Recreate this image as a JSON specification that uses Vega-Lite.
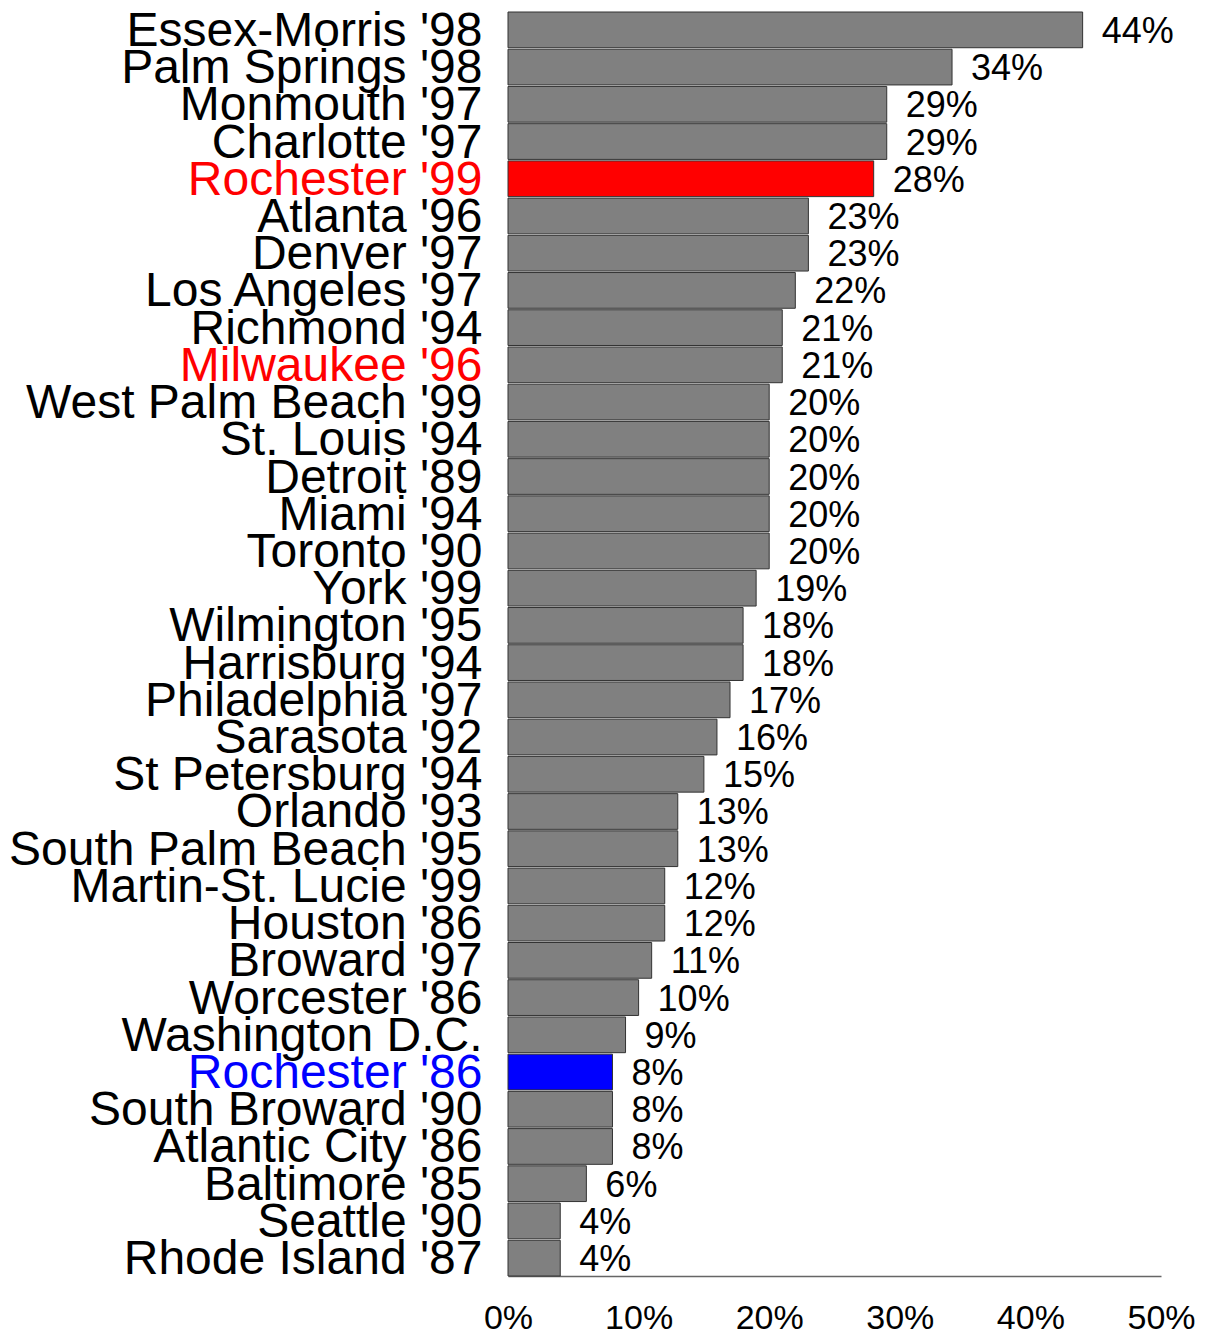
{
  "$schema": "https://vega.github.io/schema/vega-lite/v6.json",
  "autosize": "none",
  "width": 653,
  "height": 1264,
  "padding": {"left": 508, "right": 49, "top": 12, "bottom": 58},
  "background": "white",
  "config": {"view": {"stroke": null}, "font": "Liberation Sans"},
  "data": {"values": [
    {"city": "Essex-Morris '98", "pct": 44},
    {"city": "Palm Springs '98", "pct": 34},
    {"city": "Monmouth '97", "pct": 29},
    {"city": "Charlotte '97", "pct": 29},
    {"city": "Rochester '99", "pct": 28},
    {"city": "Atlanta '96", "pct": 23},
    {"city": "Denver '97", "pct": 23},
    {"city": "Los Angeles '97", "pct": 22},
    {"city": "Richmond '94", "pct": 21},
    {"city": "Milwaukee '96", "pct": 21},
    {"city": "West Palm Beach '99", "pct": 20},
    {"city": "St. Louis '94", "pct": 20},
    {"city": "Detroit '89", "pct": 20},
    {"city": "Miami '94", "pct": 20},
    {"city": "Toronto '90", "pct": 20},
    {"city": "York '99", "pct": 19},
    {"city": "Wilmington '95", "pct": 18},
    {"city": "Harrisburg '94", "pct": 18},
    {"city": "Philadelphia '97", "pct": 17},
    {"city": "Sarasota '92", "pct": 16},
    {"city": "St Petersburg '94", "pct": 15},
    {"city": "Orlando '93", "pct": 13},
    {"city": "South Palm Beach '95", "pct": 13},
    {"city": "Martin-St. Lucie '99", "pct": 12},
    {"city": "Houston '86", "pct": 12},
    {"city": "Broward '97", "pct": 11},
    {"city": "Worcester '86", "pct": 10},
    {"city": "Washington D.C.", "pct": 9},
    {"city": "Rochester '86", "pct": 8},
    {"city": "South Broward '90", "pct": 8},
    {"city": "Atlantic City '86", "pct": 8},
    {"city": "Baltimore '85", "pct": 6},
    {"city": "Seattle '90", "pct": 4},
    {"city": "Rhode Island '87", "pct": 4}
  ]},
  "encoding": {
    "y": {
      "field": "city", "type": "nominal", "sort": null,
      "scale": {"paddingInner": 0.04, "paddingOuter": 0},
      "axis": {
        "title": null, "domain": false, "ticks": false, "tickSize": 0,
        "labelPadding": 26, "labelFontSize": 48, "labelFont": "Liberation Sans",
        "labelLimit": 0, "labelOverlap": false, "labelBaseline": "middle", "labelOffset": 2,
        "labelColor": {
          "condition": [
            {"test": "datum.value == \"Rochester '86\"", "value": "#0000ff"},
            {"test": "datum.value == \"Rochester '99\" || datum.value == \"Milwaukee '96\"", "value": "#ff0000"}
          ],
          "value": "#000000"
        }
      }
    },
    "x": {
      "field": "pct", "type": "quantitative",
      "scale": {"domain": [0, 50], "nice": false},
      "axis": {
        "title": null, "values": [0, 10, 20, 30, 40, 50],
        "labelExpr": "datum.value + '%'",
        "grid": false, "ticks": false, "tickSize": 0,
        "domain": true, "domainColor": "#666666", "domainWidth": 1.5,
        "labelPadding": 25, "labelFontSize": 34, "labelColor": "black", "labelFont": "Liberation Sans",
        "labelFlush": false, "labelOverlap": false
      }
    }
  },
  "layer": [
    {
      "mark": {"type": "bar", "stroke": "#333333", "strokeWidth": 1},
      "encoding": {
        "color": {
          "condition": [
            {"test": "datum.city == \"Rochester '99\"", "value": "#ff0000"},
            {"test": "datum.city == \"Rochester '86\"", "value": "#0000ff"}
          ],
          "value": "#808080"
        }
      }
    },
    {
      "mark": {"type": "text", "align": "left", "baseline": "middle", "dx": 19, "dy": 2, "fontSize": 36, "font": "Liberation Sans", "color": "black", "text": {"expr": "datum.pct + '%'"}},
      "encoding": {}
    }
  ]
}
